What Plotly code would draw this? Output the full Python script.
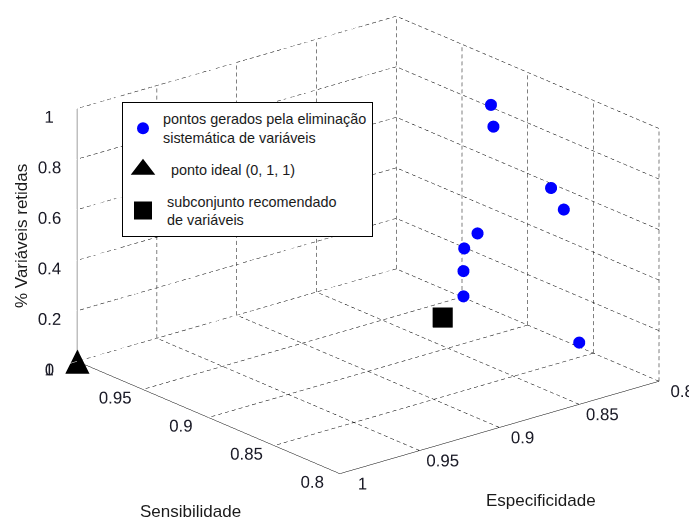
import plotly.graph_objects as go

# ---- data ----
sens_pts = [0.877, 0.880, 0.824, 0.824, 0.852, 0.867, 0.870, 0.870, 0.839]
esp_pts = [0.842, 0.838, 0.848, 0.840, 0.871, 0.867, 0.865, 0.865, 0.818]
vars_pts = [1.0, 0.9, 0.8, 0.7, 0.6, 0.5, 0.4, 0.3, 0.1]

ideal_sens = [1.0]
ideal_esp = [1.0]
ideal_vars = [0.0]

rec_sens = [0.881]
rec_esp = [0.869]
rec_vars = [0.2]

sens_ticks = [0.8, 0.85, 0.9, 0.95, 1.0]
esp_ticks = [0.8, 0.85, 0.9, 0.95, 1.0]
vars_ticks = [0, 0.2, 0.4, 0.6, 0.8, 1.0]
sens_labels = ["0.8", "0.85", "0.9", "0.95", "1"]
esp_labels = ["0.8", "0.85", "0.9", "0.95", "1"]
vars_labels = ["0", "0.2", "0.4", "0.6", "0.8", "1"]

# ---- dashed grid on the three back walls (built from the tick arrays) ----
smin, smax = min(sens_ticks), max(sens_ticks)
emin, emax = min(esp_ticks), max(esp_ticks)
zmin, zmax = min(vars_ticks), max(vars_ticks)
PX = {"e": 331 / (emax - emin), "s": 285 / (smax - smin), "z": 252 / (zmax - zmin)}
PERIOD, DASH = 7.0, 4.0
gx, gy, gz = [], [], []

def dashed(p0, p1, axis):
    length = abs((p1[0] - p0[0]) + (p1[1] - p0[1]) + (p1[2] - p0[2])) * PX[axis]
    n = max(1, round(length / PERIOD))
    for k in range(n):
        a = k / n
        b = (k + DASH / PERIOD) / n
        q0 = [p0[i] + (p1[i] - p0[i]) * a for i in range(3)]
        q1 = [p0[i] + (p1[i] - p0[i]) * b for i in range(3)]
        gx.extend([q0[0], q1[0], None]); gy.extend([q0[1], q1[1], None]); gz.extend([q0[2], q1[2], None])

for s in sens_ticks:
    if s != smin:
        dashed((emin, s, zmin), (emax, s, zmin), "e")      # floor, constant Sens
    dashed((emin, s, zmin), (emin, s, zmax), "z")          # wall Esp=min, vertical
for e in esp_ticks:
    if e != emax:
        dashed((e, smin, zmin), (e, smax, zmin), "s")      # floor, constant Esp
        dashed((e, smax, zmin), (e, smax, zmax), "z")      # wall Sens=max, vertical
for z in vars_ticks:
    if z != zmin:
        dashed((emin, smax, z), (emax, smax, z), "e")      # wall Sens=max, horizontal
        dashed((emin, smin, z), (emin, smax, z), "s")      # wall Esp=min, horizontal

fig = go.Figure()
fig.add_trace(go.Scatter3d(x=gx, y=gy, z=gz, mode="lines",
                           line=dict(color="#000000", width=1),
                           connectgaps=False, showlegend=False, hoverinfo="skip"))

fig.add_trace(go.Scatter3d(
    x=esp_pts, y=sens_pts, z=vars_pts, mode="markers",
    marker=dict(size=7, color="#0000ff", symbol="circle", line=dict(width=0)),
    showlegend=False))
fig.add_trace(go.Scatter3d(
    x=ideal_esp, y=ideal_sens, z=ideal_vars, mode="text", text=["▲"],
    textposition="middle center",
    textfont=dict(size=32, color="black", family="DejaVu Sans"),
    showlegend=False))
fig.add_trace(go.Scatter3d(
    x=rec_esp, y=rec_sens, z=rec_vars, mode="markers",
    marker=dict(size=10.5, color="black", symbol="square", line=dict(width=0)),
    showlegend=False))

# legend entries
fig.add_trace(go.Scatter(x=[None], y=[None], mode="markers", legendgroup="a",
                         marker=dict(symbol="circle", size=12, color="#0000ff"),
                         name="pontos gerados pela eliminação<br>sistemática de variáveis"))
fig.add_trace(go.Scatter(x=[None], y=[None], mode="markers", legendgroup="b",
                         marker=dict(symbol="triangle-up", size=16, color="black",
                                     line=dict(color="black", width=3)),
                         name="  ponto ideal (0, 1, 1)"))
fig.add_trace(go.Scatter(x=[None], y=[None], mode="markers", legendgroup="c",
                         marker=dict(symbol="square", size=16, color="black",
                                     line=dict(color="black", width=2)),
                         name=" subconjunto recomendado<br> de variáveis"))

axis_common = dict(showbackground=False, showgrid=False, zeroline=False,
                   showline=True, linecolor="black", linewidth=1,
                   ticks="outside", tickcolor="white", tickwidth=1,
                   showspikes=False, title=dict(text=""), tickangle=0,
                   tickfont=dict(family="Liberation Sans", size=14.2, color="#1c1c28"))

K = 1.615  # box size (orthographic zoom is set through the aspect ratio)
view = (0.595, 0.723, 0.352)
shift = (0.0636, -0.0184, -0.0697)   # moves the box right/up in the view
W, H = 689, 512   # page body adds an 8 px offset
fig.update_layout(
    width=W, height=H,
    margin=dict(l=0, r=0, t=0, b=0),
    paper_bgcolor="white", plot_bgcolor="white",
    font=dict(family="Liberation Sans", color="#1a1a1a"),
    xaxis=dict(visible=False), yaxis=dict(visible=False),
    scene=dict(
        domain=dict(x=[0, 1], y=[0, 1]),
        xaxis=dict(axis_common, ticklen=18, range=[emin, emax],
                   tickvals=esp_ticks, ticktext=esp_labels),
        yaxis=dict(axis_common, ticklen=18, range=[smax, smin],
                   tickvals=sens_ticks, ticktext=sens_labels),
        zaxis=dict(axis_common, ticklen=8, range=[zmin, zmax],
                   tickvals=vars_ticks, ticktext=vars_labels),
        aspectmode="manual", aspectratio=dict(x=K, y=K, z=0.653 * K),
        camera=dict(projection=dict(type="orthographic"),
                    eye=dict(x=2 * view[0] + shift[0], y=2 * view[1] + shift[1],
                             z=2 * view[2] + shift[2]),
                    up=dict(x=0, y=0, z=1),
                    center=dict(x=shift[0], y=shift[1], z=shift[2])),
    ),
    legend=dict(x=114 / W, y=1 - 94 / H, xanchor="left", yanchor="top",
                bordercolor="black", borderwidth=1, bgcolor="white",
                tracegroupgap=10,
                font=dict(family="Liberation Sans", size=14.4, color="#1a1a1a")),
    annotations=[
        dict(text="Sensibilidade", x=182 / W, y=1 - 503 / H, xref="paper", yref="paper",
             xanchor="center", yanchor="middle", showarrow=False, font=dict(size=17)),
        dict(text="Especificidade", x=533 / W, y=1 - 492 / H, xref="paper", yref="paper",
             xanchor="center", yanchor="middle", showarrow=False, font=dict(size=17)),
        dict(text="% Variáveis retidas", x=13 / W, y=1 - 228 / H, xref="paper", yref="paper",
             xanchor="center", yanchor="middle", showarrow=False, textangle=-90,
             font=dict(size=17)),
    ],
)

fig.write_html("out.html", config=dict(displayModeBar=False))
